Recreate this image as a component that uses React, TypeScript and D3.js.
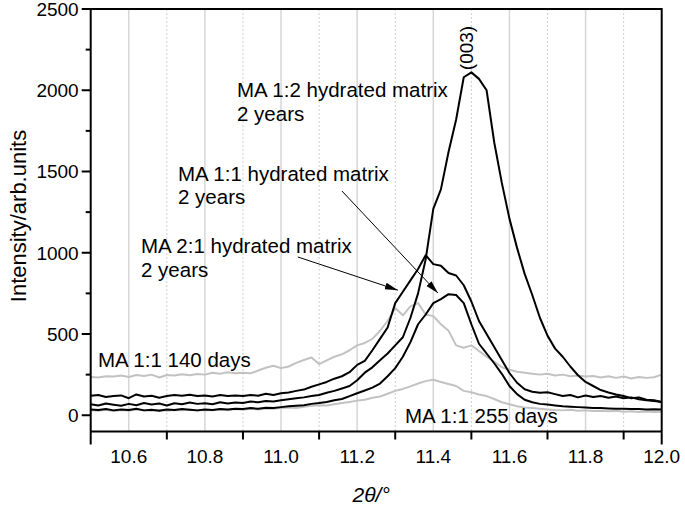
import React, { useEffect, useRef } from "react";
import * as d3 from "d3";

// 2theta grid of the scans (degrees), one reading every 0.02
const thetaStart = 10.5;
const thetaStep = 0.02;

// MA 1:2 hydrated matrix, 2 years
const ma12Years2 = [
  68, 60, 72, 65, 58, 70, 62, 75, 66, 72,
  60, 74, 68, 78, 70, 74, 68, 80, 72, 78,
  76, 84, 80, 88, 85, 92, 98, 105, 110, 118,
  125, 138, 150, 165, 180, 215, 262, 295, 338, 380,
  430, 480, 600, 750, 960, 1270, 1390, 1620, 1820, 2080,
  2110, 2070, 2000, 1680, 1430, 1210, 1030, 870, 740, 600,
  490, 410, 360, 300, 246, 205, 180, 155, 140, 128,
  118, 105, 110, 95, 92, 82,
];

// MA 1:1 hydrated matrix, 2 years
const ma11Years2 = [
  35, 32, 38, 30, 36, 33, 40, 30, 34, 28,
  36, 32, 38, 34, 30, 36, 33, 38, 35, 40,
  38, 44, 40, 46, 44, 50, 55, 58, 62, 70,
  75, 82, 92, 100, 118, 135, 152, 170, 195, 240,
  290, 360, 450, 560, 620, 690, 715, 745, 740, 690,
  560, 440, 380, 320, 255, 180, 130, 95, 80, 70,
  66, 60, 55, 52, 50, 48, 45, 44, 42, 40,
  40, 38, 38, 36, 37, 36,
];

// MA 2:1 hydrated matrix, 2 years
const ma21Years2 = [
  120, 125, 112, 118, 122, 105, 128, 115, 120, 108,
  118, 125, 120, 126, 118, 122, 116, 124, 118, 122,
  118, 125, 120, 132, 125, 135, 140, 150, 158, 175,
  190, 205, 225, 240, 265, 310, 335, 400, 470, 540,
  690, 760, 830, 900, 985, 930, 920, 875, 860, 800,
  700, 580, 500, 420, 340, 260, 200, 160, 145, 138,
  142, 130, 118, 125, 110, 122, 112, 118, 108, 115,
  105, 110, 98, 92, 88, 82,
];

// MA 1:1, 140 days
const ma11Days140 = [
  236, 232, 240, 238, 245, 235, 248, 242, 250, 232,
  248, 244, 252, 246, 254, 250, 262, 255, 264, 258,
  262, 258, 275, 292, 305, 290, 300, 322, 340, 355,
  315, 338, 360, 375, 400, 430, 445, 470, 520, 580,
  660, 615, 670, 690, 620, 610, 560, 520, 430, 415,
  430, 395, 360, 330, 295, 280, 268, 262, 256, 250,
  255, 245, 250, 240, 245, 238, 242, 232, 240, 230,
  238, 226, 236, 230, 234, 250,
];

// MA 1:1, 255 days
const ma11Days255 = [
  30, 28, 34, 26, 32, 28, 35, 30, 27, 33,
  28, 32, 30, 36, 29, 33, 30, 35, 31, 38,
  34, 40, 36, 42, 40, 45, 48, 44, 52, 58,
  62, 60, 68, 75, 82, 90, 95, 108, 115, 132,
  150, 162, 178, 195, 210, 218, 205, 192, 180, 150,
  142, 128, 118, 100, 80, 68, 55, 48, 44, 40,
  36, 32, 30, 34, 28, 30, 26, 28, 24, 27,
  22, 25, 20, 23, 20, 22,
];

const xMajorTicks = [10.6, 10.8, 11.0, 11.2, 11.4, 11.6, 11.8, 12.0];
const xMinorTicks = [10.7, 10.9, 11.1, 11.3, 11.5, 11.7, 11.9];
const yMajorTicks = [0, 500, 1000, 1500, 2000, 2500];
const yMinorTicks = [250, 750, 1250, 1750, 2250];

const App: React.FC = () => {
  const svgRef = useRef<SVGSVGElement | null>(null);

  useEffect(() => {
    if (!svgRef.current) return;
    const svg = d3.select(svgRef.current);
    svg.selectAll("*").remove();

    const width = 685;
    const height = 506;
    const left = 90.7;
    const right = 661.7;
    const top = 9;
    const bottom = 431.5;
    const font = "'Liberation Sans', Arial, Helvetica, sans-serif";

    svg.attr("width", width).attr("height", height);

    const x = d3.scaleLinear().domain([10.5, 12.0]).range([left, right]);
    const y = d3.scaleLinear().domain([-100, 2500]).range([bottom, top]);

    // Vertical grid
    svg
      .append("g")
      .selectAll("line")
      .data(xMajorTicks.filter((d) => d < 12))
      .enter()
      .append("line")
      .attr("x1", (d) => x(d))
      .attr("x2", (d) => x(d))
      .attr("y1", top)
      .attr("y2", bottom)
      .attr("stroke", "#d6d6d6")
      .attr("stroke-width", 1.5);

    svg
      .append("g")
      .selectAll("line")
      .data(xMinorTicks)
      .enter()
      .append("line")
      .attr("x1", (d) => x(d))
      .attr("x2", (d) => x(d))
      .attr("y1", top)
      .attr("y2", bottom)
      .attr("stroke", "#cfcfcf")
      .attr("stroke-width", 1)
      .attr("stroke-dasharray", "2,2");

    const line = d3
      .line<number>()
      .x((_, i) => x(thetaStart + i * thetaStep))
      .y((d) => y(d));

    const series = [
      { values: ma11Days140, color: "#c2c2c2" },
      { values: ma11Days255, color: "#c2c2c2" },
      { values: ma11Years2, color: "#000" },
      { values: ma21Years2, color: "#000" },
      { values: ma12Years2, color: "#000" },
    ];

    svg
      .append("g")
      .selectAll("path")
      .data(series)
      .enter()
      .append("path")
      .attr("fill", "none")
      .attr("stroke", (d) => d.color)
      .attr("stroke-width", 2)
      .attr("stroke-linejoin", "round")
      .attr("d", (d) => line(d.values));

    // Frame
    const axis = svg.append("g").attr("stroke", "#000").attr("stroke-width", 2);
    axis.append("line").attr("x1", left).attr("x2", left).attr("y1", top - 1).attr("y2", bottom + 13);
    axis.append("line").attr("x1", right).attr("x2", right).attr("y1", top - 1).attr("y2", bottom + 13);
    axis.append("line").attr("x1", left).attr("x2", right).attr("y1", top).attr("y2", top);
    axis.append("line").attr("x1", left).attr("x2", right).attr("y1", bottom).attr("y2", bottom);

    // y ticks
    axis
      .selectAll(".ymaj")
      .data(yMajorTicks)
      .enter()
      .append("line")
      .attr("x1", left - 9)
      .attr("x2", left)
      .attr("y1", (d) => y(d))
      .attr("y2", (d) => y(d));
    axis
      .selectAll(".ymin")
      .data(yMinorTicks)
      .enter()
      .append("line")
      .attr("x1", left - 5)
      .attr("x2", left)
      .attr("y1", (d) => y(d))
      .attr("y2", (d) => y(d));
    // x ticks
    axis
      .selectAll(".xmin")
      .data(xMinorTicks)
      .enter()
      .append("line")
      .attr("x1", (d) => x(d))
      .attr("x2", (d) => x(d))
      .attr("y1", bottom)
      .attr("y2", bottom + 8);

    svg
      .append("g")
      .selectAll("text")
      .data(yMajorTicks)
      .enter()
      .append("text")
      .attr("x", left - 12)
      .attr("y", (d) => y(d))
      .attr("dy", "0.36em")
      .attr("text-anchor", "end")
      .attr("font-family", font)
      .attr("font-size", 19)
      .text((d) => d.toString());

    svg
      .append("g")
      .selectAll("text")
      .data(xMajorTicks)
      .enter()
      .append("text")
      .attr("x", (d) => x(d))
      .attr("y", bottom + 31)
      .attr("text-anchor", "middle")
      .attr("font-family", font)
      .attr("font-size", 19)
      .text((d) => d.toFixed(1));

    // Axis titles
    svg
      .append("text")
      .attr("transform", `translate(26, 216) rotate(-90)`)
      .attr("text-anchor", "middle")
      .attr("font-family", font)
      .attr("font-size", 22)
      .text("Intensity/arb.units");

    svg
      .append("text")
      .attr("x", (left + right) / 2 - 5)
      .attr("y", 502)
      .attr("text-anchor", "middle")
      .attr("font-family", font)
      .attr("font-size", 21)
      .attr("font-style", "italic")
      .text("2θ/°");

    // Annotations
    const notes = [
      { x: 237, y: 97, t: "MA 1:2 hydrated matrix" },
      { x: 237, y: 121, t: "2 years" },
      { x: 178, y: 181, t: "MA 1:1 hydrated matrix" },
      { x: 178, y: 204, t: "2 years" },
      { x: 141, y: 253, t: "MA 2:1 hydrated matrix" },
      { x: 141, y: 277, t: "2 years" },
      { x: 98, y: 367, t: "MA 1:1 140 days" },
      { x: 405, y: 423, t: "MA 1:1 255 days" },
    ];
    svg
      .append("g")
      .selectAll("text")
      .data(notes)
      .enter()
      .append("text")
      .attr("x", (d) => d.x)
      .attr("y", (d) => d.y)
      .attr("font-family", font)
      .attr("font-size", 20.5)
      .text((d) => d.t);

    svg
      .append("text")
      .attr("transform", `translate(473, 48) rotate(-90)`)
      .attr("text-anchor", "middle")
      .attr("font-family", font)
      .attr("font-size", 19)
      .text("(003)");

    // Arrows (data coordinates)
    svg
      .append("defs")
      .append("marker")
      .attr("id", "arrowhead")
      .attr("markerUnits", "userSpaceOnUse")
      .attr("markerWidth", 14)
      .attr("markerHeight", 8)
      .attr("refX", 13)
      .attr("refY", 3.5)
      .attr("orient", "auto")
      .append("path")
      .attr("d", "M0,0 L13,3.5 L0,7 Z")
      .attr("fill", "#000");

    const arrows = [
      { from: [11.16, 1380], to: [11.412, 752] },
      { from: [11.044, 974], to: [11.307, 770] },
    ];
    svg
      .append("g")
      .selectAll("line")
      .data(arrows)
      .enter()
      .append("line")
      .attr("x1", (d) => x(d.from[0]))
      .attr("y1", (d) => y(d.from[1]))
      .attr("x2", (d) => x(d.to[0]))
      .attr("y2", (d) => y(d.to[1]))
      .attr("stroke", "#000")
      .attr("stroke-width", 1)
      .attr("marker-end", "url(#arrowhead)");
  }, []);

  return (
    <div style={{ position: "absolute", left: 0, top: 0 }}>
      <svg ref={svgRef} style={{ display: "block", background: "#fff" }} />
    </div>
  );
};

export default App;
